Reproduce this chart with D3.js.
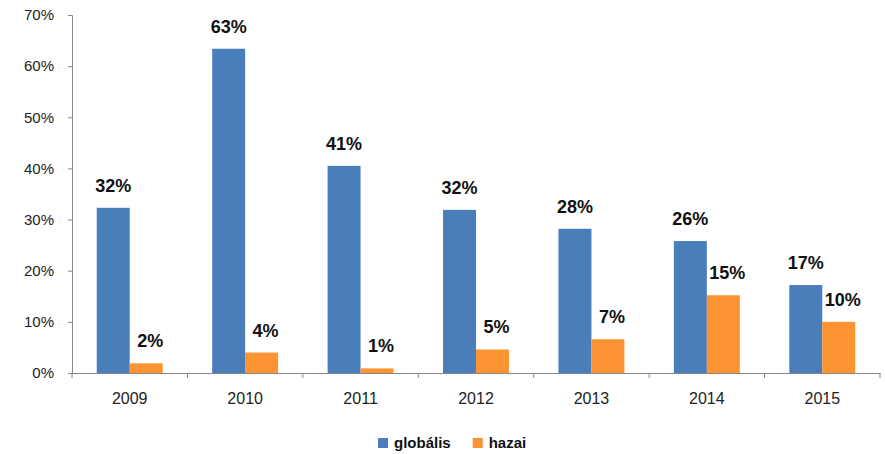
<!DOCTYPE html>
<html>
<head>
<meta charset="utf-8">
<script src="https://cdn.jsdelivr.net/npm/d3@7"></script>
<style>
  body { margin: 0; background: #fff; }
  svg { font-family: "Liberation Sans", Arial, sans-serif; }
</style>
</head>
<body>
<svg id="chart"></svg>
<script>
// chart data
const years = ['2009', '2010', '2011', '2012', '2013', '2014', '2015'];
const globalis = [0.323, 0.634, 0.405, 0.319, 0.282, 0.258, 0.172];
const hazai = [0.019, 0.040, 0.009, 0.046, 0.066, 0.152, 0.100];
const yTicks = [0, 0.1, 0.2, 0.3, 0.4, 0.5, 0.6, 0.7];

const series = [
  { name: 'globális', values: globalis, color: '#4a7ebb' },
  { name: 'hazai', values: hazai, color: '#fd9433' }
];

const width = 885;
const height = 454;
const margin = { top: 15, right: 5, bottom: 81, left: 72 };

const svg = d3.select('#chart')
  .attr('width', width)
  .attr('height', height);

const x = d3.scaleBand()
  .domain(years)
  .range([margin.left, width - margin.right]);

const xInner = d3.scaleBand()
  .domain(series.map(s => s.name))
  .range([0, x.bandwidth()])
  .paddingOuter(0.75);

const y = d3.scaleLinear()
  .domain([0, 0.7])
  .range([height - margin.bottom, margin.top]);

// y axis
const yAxis = svg.append('g')
  .attr('transform', `translate(${margin.left},0)`)
  .call(d3.axisLeft(y).tickValues(yTicks).tickFormat(d3.format('.0%')).tickSize(4).tickPadding(14));
yAxis.select('.domain').attr('stroke', '#868686');
yAxis.selectAll('.tick line').attr('stroke', '#868686');
yAxis.selectAll('.tick text').attr('font-size', 15).attr('fill', '#222');

// bars
series.forEach(s => {
  svg.append('g').selectAll('rect')
    .data(years)
    .enter()
    .append('rect')
    .attr('x', (d, i) => x(d) + xInner(s.name))
    .attr('y', (d, i) => y(s.values[i]))
    .attr('width', xInner.bandwidth())
    .attr('height', (d, i) => y(0) - y(s.values[i]))
    .attr('fill', s.color);

  svg.append('g').selectAll('text')
    .data(years)
    .enter()
    .append('text')
    .attr('x', (d, i) => x(d) + xInner(s.name) + xInner.bandwidth() / 2 + (s.name === 'hazai' ? 4 : 0))
    .attr('y', (d, i) => y(s.values[i]) - 16)
    .attr('text-anchor', 'middle')
    .attr('font-size', 18)
    .attr('font-weight', 'bold')
    .attr('fill', '#111')
    .text((d, i) => d3.format('.0%')(s.values[i]));
});

// x axis
const xAxis = svg.append('g')
  .attr('transform', `translate(0,${y(0)})`)
  .call(d3.axisBottom(x).tickSize(0).tickPadding(20));
xAxis.select('.domain').attr('stroke', '#868686');
xAxis.selectAll('.tick text').attr('font-size', 16).attr('fill', '#222');
xAxis.selectAll('.sep')
  .data(years.concat(['end']))
  .enter()
  .append('line')
  .attr('class', 'sep')
  .attr('x1', (d, i) => margin.left + i * x.step())
  .attr('x2', (d, i) => margin.left + i * x.step())
  .attr('y1', 0)
  .attr('y2', 5)
  .attr('stroke', '#868686');

// legend
const legend = svg.append('g').attr('transform', 'translate(378,443)');
let lx = 0;
series.forEach(s => {
  const g = legend.append('g').attr('transform', `translate(${lx},0)`);
  g.append('rect')
    .attr('x', 0).attr('y', -5)
    .attr('width', 10).attr('height', 10)
    .attr('fill', s.color);
  const t = g.append('text')
    .attr('x', 16).attr('y', 5)
    .attr('font-size', 15)
    .attr('font-weight', 'bold')
    .attr('fill', '#111')
    .text(s.name);
  lx += 16 + t.node().getComputedTextLength() + 22;
});
</script>
</body>
</html>
